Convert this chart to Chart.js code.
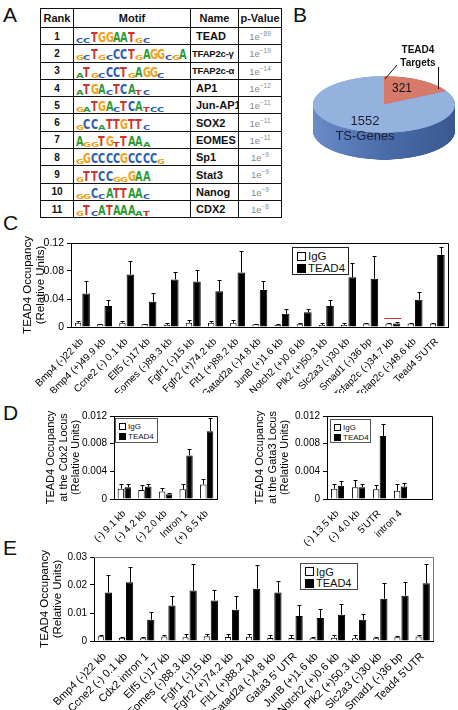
<!DOCTYPE html>
<html>
<head>
<meta charset="utf-8">
<script src="https://cdn.jsdelivr.net/npm/chart.js@4.4.1/dist/chart.umd.min.js"></script>
<style>
  body { margin:0; width:458px; height:710px; position:relative; background:#fff; overflow:hidden;
         font-family:"Liberation Sans", Arial, sans-serif; color:#111; }
  .abs { position:absolute; }
  .panel { position:absolute; font-size:21px; line-height:1; color:#111; }
  #motifs { position:absolute; left:40px; top:8px; width:241px; border-collapse:collapse; table-layout:fixed; }
  #motifs td, #motifs th { border:1px solid #111; padding:0; overflow:hidden; white-space:nowrap; }
  #motifs th { height:18px; font-size:11px; font-weight:bold; text-align:center; }
  #motifs td { height:16.3px; }
  #motifs .rank { text-align:center; font-size:10px; font-weight:bold; }
  #motifs .logo { padding-left:2px; font-family:"DejaVu Sans","Liberation Sans",sans-serif; font-weight:bold; font-size:14px; line-height:1; }
  #motifs .logo .p { display:inline-block; width:7.4px; overflow:visible; vertical-align:bottom; height:13px; }
  #motifs .logo .p b { display:inline-block; transform:scale(0.7, 1); transform-origin:0 100%; }
  #motifs .logo .p.s b { transform:scale(0.7, 0.5); }
  #motifs .name { font-size:11px; font-weight:bold; padding-left:5px; }
  #motifs .name.long { font-size:9.5px; padding-left:1px; letter-spacing:-0.2px; }
  #motifs .pv { text-align:center; font-size:9.5px; color:#888; }
  #motifs .pv sup { font-size:6.5px; }
  .legend { position:absolute; border:1px solid #222; background:#fff; box-sizing:border-box; }
  .legend div { display:flex; align-items:center; white-space:nowrap; }
  .legend i { display:inline-block; border:1px solid #000; box-sizing:border-box; margin-right:2px; }
  .pietxt { position:absolute; text-align:center; line-height:1; }
</style>
</head>
<body>

<div class="panel" style="left:3px;top:4px">A</div>
<div class="panel" style="left:293px;top:4px">B</div>
<div class="panel" style="left:3px;top:212px">C</div>
<div class="panel" style="left:3px;top:402px">D</div>
<div class="panel" style="left:3px;top:537px">E</div>

<table id="motifs">
  <colgroup><col style="width:33px"><col style="width:117px"><col style="width:48px"><col style="width:43px"></colgroup>
  <thead><tr><th>Rank</th><th>Motif</th><th>Name</th><th>p-Value</th></tr></thead>
  <tbody id="motifRows"></tbody>
</table>

<div class="abs" style="left:313px;top:76px;width:142px;height:209px;transform:scaleY(0.4);transform-origin:0 0">
  <canvas id="pie" width="142" height="209"></canvas>
</div>
<svg class="abs" style="left:0;top:0" width="458" height="200">
  <line x1="385" y1="79" x2="397" y2="65" stroke="#111" stroke-width="1"/>
  <line x1="438.5" y1="89" x2="438.5" y2="67" stroke="#111" stroke-width="1"/>
</svg>
<div class="pietxt" style="left:393px;top:45px;width:50px;font-size:10px;font-weight:bold">TEAD4</div>
<div class="pietxt" style="left:393px;top:58px;width:50px;font-size:10px;font-weight:bold">Targets</div>
<div class="pietxt" style="left:387px;top:82px;width:30px;font-size:12px">321</div>
<div class="pietxt" style="left:330px;top:114px;width:70px;font-size:13px;color:#1b1f3a">1552</div>
<div class="pietxt" style="left:320px;top:129px;width:90px;font-size:13px;color:#1b1f3a">TS-Genes</div>

<canvas id="chartC" class="abs" style="left:0;top:228px" width="458" height="165"></canvas>
<canvas id="chartCdx2" class="abs" style="left:0;top:404px" width="228" height="142"></canvas>
<canvas id="chartGata3" class="abs" style="left:228px;top:404px" width="230" height="142"></canvas>
<canvas id="chartE" class="abs" style="left:0;top:545px" width="458" height="165"></canvas>

<div class="legend" style="left:292px;top:247px;width:57px;height:28px;font-size:11.5px;padding:2px 0 0 4px;border-width:1.3px">
  <div style="height:12px"><i style="width:9px;height:9px;background:#fff"></i>IgG</div>
  <div style="height:12px"><i style="width:9px;height:9px;background:#000"></i>TEAD4</div>
</div>
<div class="legend" style="left:115px;top:418px;width:43px;height:25px;font-size:8px;padding:2px 0 0 3px;border-color:#555">
  <div style="height:10px"><i style="width:7px;height:7px;background:#fff"></i>IgG</div>
  <div style="height:10px"><i style="width:7px;height:7px;background:#000"></i>TEAD4</div>
</div>
<div class="legend" style="left:330px;top:419px;width:41px;height:24px;font-size:8px;padding:2px 0 0 3px;border-color:#555">
  <div style="height:10px"><i style="width:7px;height:7px;background:#fff"></i>IgG</div>
  <div style="height:10px"><i style="width:7px;height:7px;background:#000"></i>TEAD4</div>
</div>
<div class="legend" style="left:300px;top:563px;width:58px;height:27px;font-size:11px;padding:2px 0 0 4px;border-color:#444">
  <div style="height:11.5px"><i style="width:9px;height:9px;background:#fff"></i>IgG</div>
  <div style="height:11.5px"><i style="width:9px;height:9px;background:#000"></i>TEAD4</div>
</div>

<script>
// ---- panel A: motif table
const motifRanks = [1, 2, 3, 4, 5, 6, 7, 8, 9, 10, 11];
const motifLogos = ["ccTGGAATgc", "gcTgcCCTgAGGcgA", "aTgcCCTgAGGc", "aTGAcTCAtc", "gaTGAcTCAtcc",
                    "gCCaTTGTTc", "AggTGtTAAa", "gGCCCCGCCCCg", "gTTCCggGAA", "ggCcATTAAc", "gTcATAAAat"];
const motifNames = ["TEAD", "TFAP2c-\u03b3", "TFAP2c-\u03b1", "AP1", "Jun-AP1", "SOX2", "EOMES", "Sp1", "Stat3", "Nanog", "CDX2"];
const motifPExp = [-89, -19, -14, -12, -11, -11, -11, -9, -9, -9, -8];

// ---- panel B: pie
const pieLabels = ["TEAD4 Targets", "TS-Genes"];
const pieValues = [321, 1552];

// ---- panel C
const sitesC = ["Bmp4 (-)22 kb", "Bmp4 (+)49.9 kb", "Ccne2 (-) 0.1 kb", "Elf5 (-)17 kb", "Eomes (-)88.3 kb",
  "Fgfr1 (-)15 kb", "Fgfr2 (+)74.2 kb", "Flt1 (+)88.2 kb", "Gatad2a (-)4.8 kb", "JunB (+)1.6 kb",
  "Notch2 (+)0.6 kb", "Plk2 (+)50.3 kb", "Slc2a3 (-)30 kb", "Smad1 (-)36 bp", "Tcfap2c (-)34.7 kb",
  "Tcfap2c (-)48.6 kb", "Tead4 5'UTR"];
const iggC      = [0.006, 0.004, 0.006, 0.004, 0.003, 0.006, 0.006, 0.006, 0.004, 0.003, 0.004, 0.003, 0.003, 0.005, 0.005, 0.005, 0.005];
const iggErrC   = [0.002, 0.001, 0.002, 0.001, 0.003, 0.004, 0.003, 0.004, 0.001, 0.001, 0.002, 0.003, 0.003, 0.001, 0.001, 0.001, 0.001];
const tead4C    = [0.048, 0.030, 0.075, 0.036, 0.068, 0.065, 0.051, 0.078, 0.053, 0.019, 0.021, 0.030, 0.071, 0.069, 0.005, 0.039, 0.103];
const tead4ErrC = [0.017, 0.009, 0.019, 0.012, 0.011, 0.017, 0.016, 0.030, 0.013, 0.007, 0.005, 0.008, 0.020, 0.032, 0.002, 0.011, 0.011];
const redMarkC = { index: 14, value: 0.013 };
const yTicksC = [0, 0.04, 0.08, 0.12];
const yLabelsC = ["0", "0.04", "0.08", "0.12"];

// ---- panel D
const cdx2Sites = ["(-) 9.1 kb", "(-) 4.2 kb", "(-) 2.0 kb", "Intron 1", "(+) 6.5 kb"];
const iggCdx2      = [0.0015, 0.0013, 0.0011, 0.0014, 0.0021];
const iggErrCdx2   = [0.0007, 0.0007, 0.0005, 0.0007, 0.0008];
const tead4Cdx2    = [0.0017, 0.0018, 0.0007, 0.0063, 0.0098];
const tead4ErrCdx2 = [0.0005, 0.0004, 0.0002, 0.0009, 0.0019];
const gata3Sites = ["(-) 13.5 kb", "(-) 4.0 kb", "5'UTR", "intron 4"];
const iggGata3      = [0.0015, 0.0017, 0.0014, 0.0012];
const iggErrGata3   = [0.0007, 0.0011, 0.0006, 0.0010];
const tead4Gata3    = [0.0019, 0.0017, 0.0091, 0.0018];
const tead4ErrGata3 = [0.0007, 0.0004, 0.0017, 0.0005];
const yTicksD = [0, 0.004, 0.008, 0.012];
const yLabelsD = ["0", "0.004", "0.008", "0.012"];

// ---- panel E
const sitesE = ["Bmp4 (-)22 kb", "Ccne2 (-) 0.1 kb", "Cdx2 intron 1", "Elf5 (-)17 kb", "Eomes (-)88.3 kb",
  "Fgfr1 (-)15 kb", "Fgfr2 (+)74.2 kb", "Flt1 (+)88.2 kb", "Gatad2a (-)4.8 kb", "Gata3 5' UTR",
  "JunB (+)1.6 kb", "Notch2 (+)0.6 kb", "Plk2 (+)50.3 kb", "Slc2a3 (-)30 kb", "Smad1 (-)36 bp", "Tead4 5'UTR"];
const iggE      = [0.0017, 0.0012, 0.0010, 0.0016, 0.0013, 0.0017, 0.0014, 0.0015, 0.0011, 0.0011, 0.0010, 0.0012, 0.0010, 0.0010, 0.0013, 0.0016];
const iggErrE   = [0.0005, 0.0002, 0.0003, 0.0007, 0.0012, 0.0008, 0.0010, 0.0010, 0.0010, 0.0009, 0.0005, 0.0009, 0.0010, 0.0003, 0.0004, 0.0004];
const tead4E    = [0.0173, 0.0210, 0.0076, 0.0127, 0.0180, 0.0145, 0.0112, 0.0187, 0.0173, 0.0089, 0.0082, 0.0094, 0.0076, 0.0151, 0.0162, 0.0206];
const tead4ErrE = [0.0063, 0.0056, 0.0028, 0.0033, 0.0096, 0.0037, 0.0048, 0.0083, 0.0043, 0.0039, 0.0034, 0.0038, 0.0020, 0.0055, 0.0049, 0.0070];
const yTicksE = [0, 0.01, 0.02, 0.03];
const yLabelsE = ["0", "0.01", "0.02", "0.03"];

const FONT = '"Liberation Sans", Arial, sans-serif';
const baseColors = { A: "#2f9a3a", C: "#2c5db3", G: "#f0a21c", T: "#d3322c" };

// table rows
const rows = document.getElementById("motifRows");
motifRanks.forEach((r, i) => {
  const logo = motifLogos[i].split("").map(ch => {
    const up = ch.toUpperCase();
    const cls = ch === up ? "p" : "p s";
    return '<span class="' + cls + '"><b style="color:' + baseColors[up] + '">' + up + "</b></span>";
  }).join("");
  const long = motifNames[i].length > 7 ? " long" : "";
  const tr = document.createElement("tr");
  tr.innerHTML = '<td class="rank">' + r + '</td><td class="logo">' + logo + '</td><td class="name' + long + '">' +
    motifNames[i] + '</td><td class="pv">1e<sup>\u2212' + Math.abs(motifPExp[i]) + "</sup></td>";
  rows.appendChild(tr);
});

// pie with a drawn side to look like the 3D original
const pieDepth = 67;
const pieSide = {
  id: "pieSide",
  beforeDatasetsDraw(chart) {
    const ctx = chart.ctx;
    const meta = chart.getDatasetMeta(0);
    const g = ctx.createLinearGradient(0, 0, chart.width, 0);
    g.addColorStop(0, "#6b8cc8");
    g.addColorStop(0.5, "#4a6ca8");
    g.addColorStop(1, "#3a5992");
    meta.data.forEach(arc => {
      for (let k = pieDepth; k > 0; k--) {
        ctx.beginPath();
        ctx.moveTo(arc.x, arc.y + k);
        ctx.arc(arc.x, arc.y + k, arc.outerRadius, arc.startAngle, arc.endAngle);
        ctx.closePath();
        ctx.fillStyle = g;
        ctx.fill();
      }
    });
  }
};

new Chart(document.getElementById("pie"), {
  type: "pie",
  data: {
    labels: pieLabels,
    datasets: [{ data: pieValues, backgroundColor: ["#d87a6a", "#95b2de"], borderWidth: 0 }]
  },
  options: {
    responsive: false, animation: false, devicePixelRatio: 1,
    layout: { padding: { top: 0, left: 0, right: 0, bottom: pieDepth } },
    plugins: { legend: { display: false }, tooltip: { enabled: false } }
  },
  plugins: [pieSide]
});

// whiskers (upper only), frame, red mark
const errorBars = {
  id: "errorBars",
  afterDatasetsDraw(chart) {
    const ctx = chart.ctx, y = chart.scales.y;
    chart.data.datasets.forEach((ds, i) => {
      if (!ds.errors) return;
      chart.getDatasetMeta(i).data.forEach((bar, j) => {
        const top = Math.round(y.getPixelForValue(ds.data[j] + ds.errors[j])) + 0.5;
        const x = Math.round(bar.x) + 0.5;
        ctx.save();
        ctx.strokeStyle = "#000";
        ctx.lineWidth = 1;
        ctx.beginPath();
        ctx.moveTo(x, bar.y);
        ctx.lineTo(x, top);
        ctx.moveTo(x - 2, top);
        ctx.lineTo(x + 2, top);
        ctx.stroke();
        ctx.restore();
      });
    });
  }
};

const frame = {
  id: "frame",
  afterDraw(chart, args, opts) {
    const a = chart.chartArea, ctx = chart.ctx;
    ctx.save();
    ctx.strokeStyle = opts.color || "#000";
    ctx.lineWidth = 1;
    ctx.beginPath();
    ctx.moveTo(a.left, Math.round(a.top) + 0.5);
    ctx.lineTo(Math.round(a.right) + 0.5, Math.round(a.top) + 0.5);
    ctx.lineTo(Math.round(a.right) + 0.5, a.bottom);
    ctx.stroke();
    ctx.restore();
  }
};

const marker = {
  id: "marker",
  afterDatasetsDraw(chart, args, opts) {
    if (!opts || opts.index === undefined) return;
    const ctx = chart.ctx;
    const b0 = chart.getDatasetMeta(0).data[opts.index];
    const b1 = chart.getDatasetMeta(1).data[opts.index];
    const yy = Math.round(chart.scales.y.getPixelForValue(opts.value)) + 0.5;
    ctx.save();
    ctx.strokeStyle = "#c0392b";
    ctx.lineWidth = 1;
    ctx.beginPath();
    ctx.moveTo(b0.x - b0.width / 2 - 1, yy);
    ctx.lineTo(b1.x + b1.width / 2 + 1, yy);
    ctx.stroke();
    ctx.restore();
  }
};

function barChart(id, o) {
  return new Chart(document.getElementById(id), {
    type: "bar",
    data: {
      labels: o.labels,
      datasets: [
        { label: "IgG", data: o.igg, errors: o.iggErr, backgroundColor: "#fff", borderColor: "#000",
          borderWidth: 1, barPercentage: o.bpIgg, categoryPercentage: o.cp },
        { label: "TEAD4", data: o.tead4, errors: o.tead4Err, backgroundColor: "#000", borderColor: "#000",
          borderWidth: 1, barPercentage: o.bpTead, categoryPercentage: o.cp }
      ]
    },
    options: {
      responsive: false, animation: false, devicePixelRatio: 1,
      layout: { padding: o.pad },
      plugins: {
        legend: { display: false }, tooltip: { enabled: false },
        frame: { color: o.frameColor },
        marker: o.mark || {}
      },
      scales: {
        x: {
          grid: { display: false },
          border: { display: true, color: "#000" },
          ticks: { color: "#000", font: { size: o.xFont, family: FONT }, minRotation: 45, maxRotation: 45,
                   autoSkip: false, padding: 1 },
          afterFit(s) { s.height = o.xH; }
        },
        y: {
          min: 0, max: o.yTicks[o.yTicks.length - 1],
          afterBuildTicks(s) { s.ticks = o.yTicks.map(v => ({ value: v })); },
          ticks: { callback: (v, i) => o.yLabels[i], color: "#000", font: { size: o.yFont, family: FONT }, padding: 3 },
          grid: { drawOnChartArea: false, color: "#000", tickLength: 4 },
          border: { color: "#000" },
          title: { display: true, text: o.title, color: "#000",
                   font: { size: o.titleFont, family: FONT, lineHeight: o.titleLH },
                   padding: { top: o.titlePad, bottom: 0 } },
          afterFit(s) { s.width = o.yW; }
        }
      }
    },
    plugins: [errorBars, frame, marker]
  });
}

barChart("chartC", {
  labels: sitesC, igg: iggC, iggErr: iggErrC, tead4: tead4C, tead4Err: tead4ErrC,
  yTicks: yTicksC, yLabels: yLabelsC, mark: redMarkC,
  title: ["TEAD4 Occupancy", "(Relative Units)"], titleFont: 11.5, titleLH: 1.1, titlePad: 22,
  pad: { top: 15, right: 10, left: 0, bottom: 0 }, yW: 71, xH: 66,
  xFont: 10, yFont: 10.5, cp: 0.72, bpIgg: 0.8, bpTead: 0.95, frameColor: "#000"
});

barChart("chartCdx2", {
  labels: cdx2Sites, igg: iggCdx2, iggErr: iggErrCdx2, tead4: tead4Cdx2, tead4Err: tead4ErrCdx2,
  yTicks: yTicksD, yLabels: yLabelsD,
  title: ["TEAD4 Occupancy", "at the Cdx2 Locus", "(Relative Units)"], titleFont: 11, titleLH: 1.18, titlePad: 44,
  pad: { top: 12, right: 11, left: 0, bottom: 0 }, yW: 114, xH: 47,
  xFont: 10, yFont: 10, cp: 0.66, bpIgg: 0.95, bpTead: 0.95, frameColor: "#000"
});

barChart("chartGata3", {
  labels: gata3Sites.concat([""]), igg: iggGata3, iggErr: iggErrGata3, tead4: tead4Gata3, tead4Err: tead4ErrGata3,
  yTicks: yTicksD, yLabels: yLabelsD,
  title: ["TEAD4 Occupancy", "at the Gata3 Locus", "(Relative Units)"], titleFont: 11, titleLH: 1.18, titlePad: 25,
  pad: { top: 12, right: 26, left: 0, bottom: 0 }, yW: 99, xH: 47,
  xFont: 10, yFont: 10, cp: 0.64, bpIgg: 0.95, bpTead: 0.95, frameColor: "#000"
});

barChart("chartE", {
  labels: sitesE, igg: iggE, iggErr: iggErrE, tead4: tead4E, tead4Err: tead4ErrE,
  yTicks: yTicksE, yLabels: yLabelsE,
  title: ["TEAD4 Occupancy", "(Relative Units)"], titleFont: 11.5, titleLH: 1.13, titlePad: 38,
  pad: { top: 12, right: 25, left: 0, bottom: 0 }, yW: 94, xH: 69,
  xFont: 11, yFont: 10, cp: 0.72, bpIgg: 0.8, bpTead: 0.95, frameColor: "#777"
});
</script>
</body>
</html>
